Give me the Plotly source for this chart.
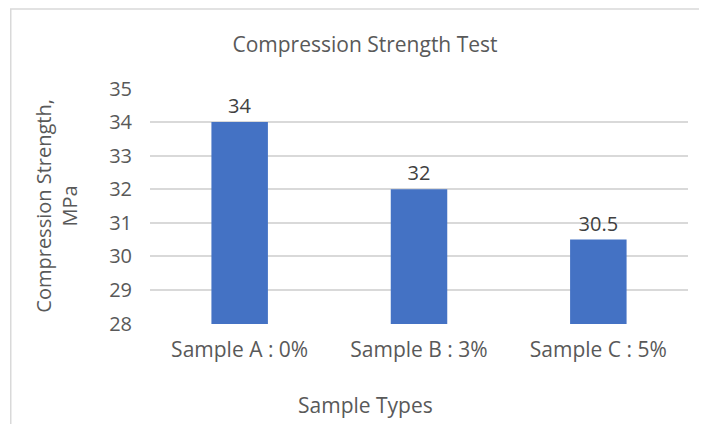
import plotly.graph_objects as go

categories = ["Sample A : 0%", "Sample B : 3%", "Sample C : 5%"]
values = [34, 32, 30.5]
value_labels = ["34", "32", "30.5"]
y_ticks = [28, 29, 30, 31, 32, 33, 34, 35]

FONT = "'Open Sans', sans-serif"
TXT = "#595959"

# page body has an 8px offset; layout computed in figure coordinates
W, H = 707, 424
PL, PR, PT, PB = 141.5, 680.5, 80, 316
L, R, T, B = PL, W - PR, PT, H - PB
pw = PR - PL
ph = PB - PT

fig = go.Figure()
fig.add_trace(go.Bar(
    x=categories, y=values,
    marker=dict(color="#4472C4", line=dict(width=0)),
    width=0.315,
    text=value_labels, textposition="outside",
    textfont=dict(size=20, color="#404040", family=FONT),
    cliponaxis=False,
))

fig.update_layout(
    width=W, height=H,
    margin=dict(l=L, r=R, t=T, b=B, pad=0),
    paper_bgcolor="white", plot_bgcolor="white",
    font=dict(family=FONT, color=TXT, size=20),
    title=dict(text="Compression Strength Test", x=357 / W, xanchor="center",
               y=1 - 37 / H, yanchor="middle", font=dict(size=21, color=TXT)),
    showlegend=False,
    xaxis=dict(
        showgrid=False, showline=False, ticks="",
        tickfont=dict(size=21, color=TXT),
        ticklabelstandoff=11,
    ),
    yaxis=dict(
        range=[27.985, 35.015],
        tickvals=y_ticks,
        ticktext=[str(t) for t in y_ticks],
        showgrid=True, gridcolor="#D9D9D9", gridwidth=1.5,
        zeroline=False, showline=False, ticks="",
        tickfont=dict(size=20, color=TXT),
        ticklabelstandoff=17,
    ),
    annotations=[
        dict(text="Sample Types", xref="paper", yref="paper",
             x=(357 - PL) / pw, y=-(397 - PB) / ph, xanchor="center", yanchor="middle",
             showarrow=False, font=dict(size=21, color=TXT)),
        dict(text="Compression Strength,<br>MPa", xref="paper", yref="paper",
             x=(47 - PL) / pw, y=0.5, xanchor="center", yanchor="middle", textangle=-90,
             showarrow=False, font=dict(size=20, color=TXT)),
    ],
)

fig.add_shape(type="rect", xref="paper", yref="paper",
              x0=(2 - PL) / pw, x1=(W + 30 - PL) / pw,
              y0=-(H + 30 - PB) / ph, y1=1 + (PT - 1) / ph,
              line=dict(color="#D9D9D9", width=1.5), fillcolor="rgba(0,0,0,0)", layer="below")

fig.write_html("out.html")
